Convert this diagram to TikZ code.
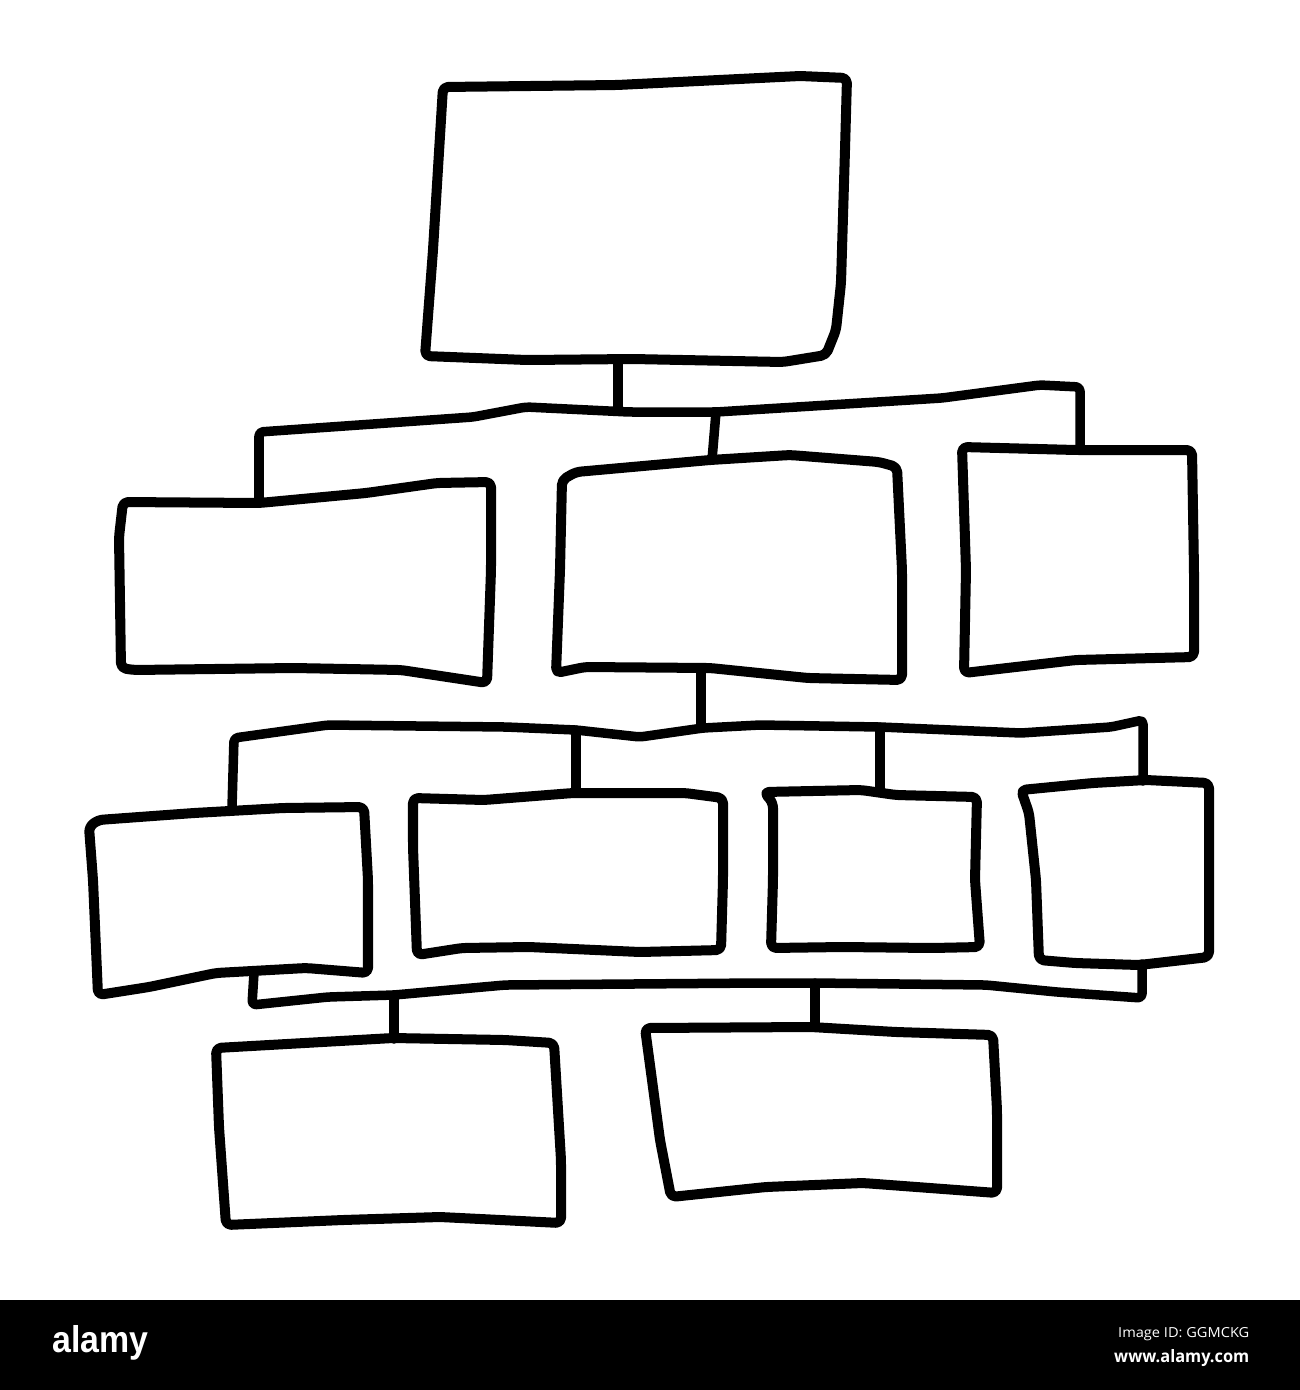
\documentclass[tikz,border=0pt]{standalone}
\usepackage{fontspec}
\setmainfont{Liberation Sans}
\newfontfamily\opensans{Open Sans}
\begin{document}
\begin{tikzpicture}[x=0.01cm,y=-0.01cm,
  sketch/.style={draw=black, line width=0.1cm, line cap=round, line join=round, rounded corners=0.05cm},
  wire/.style={draw=black, line width=0.095cm, line cap=round, line join=round, rounded corners=0.04cm},
  foot/.style={inner sep=0pt, text=white}]
\useasboundingbox (0,0) rectangle (1300,1390);
\fill[white] (0,0) rectangle (1300,1390);

% ---------- boxes ----------
% top box
\draw[sketch] (443,87) -- (617,85) -- (800,76) -- (847,78) -- (845,150) -- (841,283) -- (836,330) -- (826,355)
  -- (783,362) -- (633,359) -- (527,360) -- (425,356) -- (433,250) -- cycle;
% level 1
\draw[sketch] (123,502) -- (259,503) -- (366,493) -- (437,483) -- (491,482) -- (491,570) -- (487,683)
  -- (401,670) -- (294,668) -- (134,670) -- (121,668) -- (119,537) -- cycle;
\draw[sketch] (576,472) -- (710,460) -- (790,455) -- (879,462) -- (897,467) -- (902,570) -- (902,680)
  -- (808,678) -- (710,668) -- (585,667) -- (556,673) -- (560,570) -- (562,480) -- cycle;
\draw[sketch] (962,447) -- (1076,450) -- (1192,450) -- (1194,570) -- (1194,657) -- (1076,660)
  -- (964,673) -- (966,570) -- cycle;
% level 2
\draw[sketch] (98,820) -- (194,813) -- (283,808) -- (364,807) -- (368,880) -- (368,973) -- (306,968)
  -- (216,973) -- (149,987) -- (98,995) -- (93,880) -- (89,827) -- cycle;
\draw[sketch] (413,798) -- (484,800) -- (573,793) -- (685,793) -- (723,798) -- (723,880) -- (721,950)
  -- (640,952) -- (529,947) -- (462,948) -- (417,955) -- (413,847) -- cycle;
\draw[sketch] (764,792) -- (861,790) -- (896,795) -- (977,797) -- (975,880) -- (980,947) -- (932,948)
  -- (843,947) -- (771,948) -- (773,880) -- (773,803) -- cycle;
\draw[sketch] (1021,790) -- (1093,783) -- (1146,780) -- (1209,783) -- (1209,880) -- (1209,957)
  -- (1139,965) -- (1075,963) -- (1039,960) -- (1036,880) -- (1029,813) -- cycle;
% level 3
\draw[sketch] (216,1048) -- (393,1038) -- (505,1040) -- (554,1043) -- (561,1160) -- (561,1223)
  -- (440,1217) -- (343,1220) -- (226,1225) -- (219,1127) -- cycle;
\draw[sketch] (645,1028) -- (811,1027) -- (896,1032) -- (993,1035) -- (997,1110) -- (997,1193)
  -- (863,1183) -- (766,1187) -- (671,1197) -- (660,1140) -- (652,1080) -- cycle;

% ---------- connector anchor points ----------
\coordinate (topB) at (618,359);
\coordinate (j1) at (618,410);
\coordinate (aT) at (259,503);
\coordinate (bar1L) at (259,432);
\coordinate (bar1R) at (1080,387);
\coordinate (cT) at (1080,450);
\coordinate (j1b) at (716,412);
\coordinate (bT) at (712,460);

\coordinate (bB) at (701,668);
\coordinate (j2) at (701,728);
\coordinate (dT) at (232,808);
\coordinate (bar2L) at (234,738);
\coordinate (bar2R) at (1143,720);
\coordinate (gT) at (1143,781);
\coordinate (j2e) at (576,730);
\coordinate (eT) at (576,793);
\coordinate (j2f) at (880,727);
\coordinate (fT) at (880,791);

\coordinate (dB) at (254,973);
\coordinate (bar3L) at (252,1005);
\coordinate (bar3R) at (1142,998);
\coordinate (gB) at (1142,964);
\coordinate (j3h) at (394,995);
\coordinate (hT) at (394,1039);
\coordinate (j3i) at (815,983);
\coordinate (iT) at (815,1027);

% ---------- connectors ----------
\draw[wire] (topB) -- (j1);
\draw[wire] (aT) -- (bar1L) -- (473,417) -- (526,407) -- (629,412) -- (j1b) -- (942,398) -- (1040,385) -- (bar1R) -- (cT);
\draw[wire] (j1b) -- (bT);

\draw[wire] (bB) -- (j2);
\draw[wire] (dT) -- (bar2L) -- (328,725) -- (506,727) -- (j2e) -- (640,737) -- (703,728) -- (760,725) -- (j2f) -- (1021,733) -- (1111,727) -- (bar2R) -- (gT);
\draw[wire] (j2e) -- (eT);
\draw[wire] (j2f) -- (fT);

\draw[wire] (dB) -- (bar3L) -- (328,997) -- (j3h) -- (505,985) -- (760,983) -- (j3i) -- (986,985) -- (1057,992) -- (bar3R) -- (gB);
\draw[wire] (j3h) -- (hT);
\draw[wire] (j3i) -- (iT);

% ---------- footer ----------
\fill[black] (0,1300) rectangle (1300,1390);
\node[foot, anchor=base west] (logo) at (52,1352) {\resizebox{0.96cm}{0.27cm}{\bfseries alamy}};
\node[foot, anchor=base east] (imgid) at (1250,1337) {\resizebox{1.31cm}{0.10cm}{\opensans Image ID: GGMCKG}};
\node[foot, anchor=base east] (url) at (1250,1362) {\resizebox{1.35cm}{0.13cm}{\opensans\bfseries www.alamy.com}};
\end{tikzpicture}
\end{document}
